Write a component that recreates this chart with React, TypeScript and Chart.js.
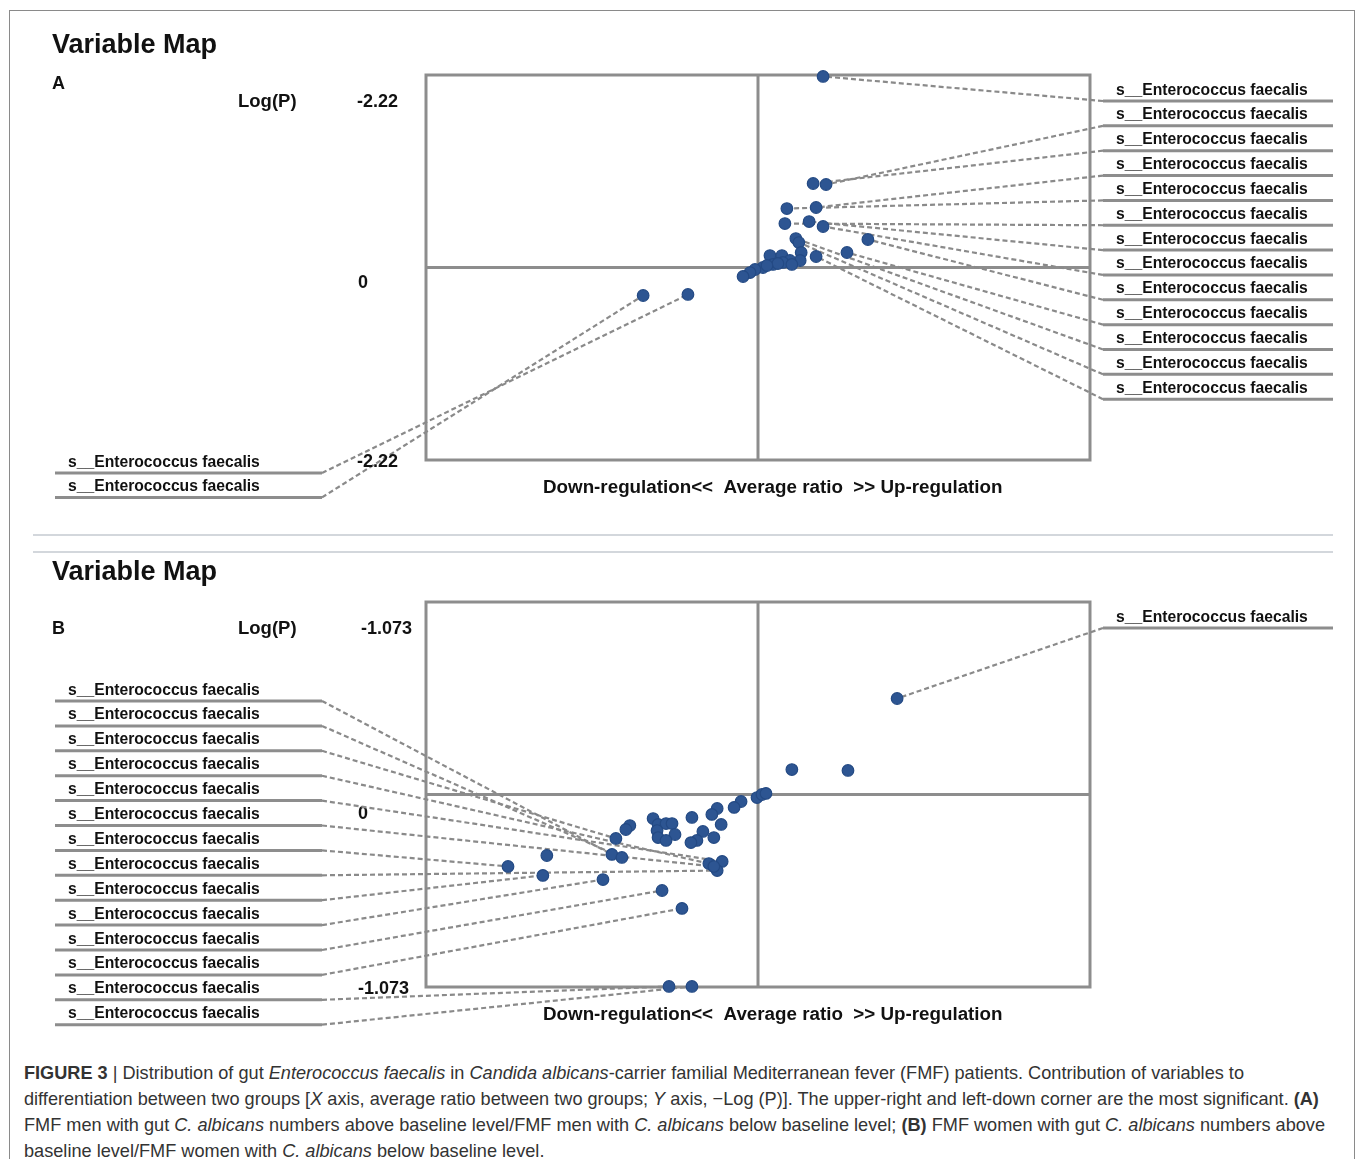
import React, { useEffect, useRef } from "react";
import { Chart, registerables } from "chart.js";
Chart.register(...registerables);

const SPECIES = "s__Enterococcus faecalis";
const AXIS_TITLE = "Down-regulation<<  Average ratio  >> Up-regulation";

// ---------- Panel A (men) ----------
const aRatio = [0.196, 0.205, 0.166, 0.175, 0.087, 0.081, 0.154, 0.196, 0.331, 0.268, 0.114, 0.123, 0.175,
  0.130, 0.036, 0.072, 0.127, 0.096, 0.075, 0.045, 0.015, -0.009, -0.024, -0.045, 0.102, 0.060, 0.027,
  -0.211, -0.346];
const aLogP = [2.203, 0.957, 0.969, 0.692, 0.680, 0.507, 0.530, 0.473, 0.323, 0.173, 0.334, 0.288, 0.127,
  0.173, 0.138, 0.138, 0.081, 0.081, 0.058, 0.035, 0.0, -0.023, -0.058, -0.104, 0.035, 0.046, 0.023,
  -0.311, -0.323];
const aRightLabelled = [0, 1, 2, 3, 4, 5, 6, 7, 8, 9, 10, 11, 12];
const aLeftLabelled = [27, 28];
const aTicks = ["-2.22", "0", "-2.22"];
const aLimit = 2.22;

// ---------- Panel B (women) ----------
const bRatio = [0.419, 0.102, 0.271, -0.003, 0.012, 0.024, -0.051, -0.072, -0.123, -0.139, -0.111, -0.199,
  -0.316, -0.386, -0.398, -0.301, -0.277, -0.259, -0.304, -0.250, -0.301, -0.277, -0.166, -0.184, -0.202,
  -0.133, -0.428, -0.440, -0.410, -0.148, -0.108, -0.123, -0.133, -0.636, -0.753, -0.648, -0.467, -0.289,
  -0.229, -0.268, -0.199];
const bLogP = [0.535, 0.139, 0.134, -0.017, 0.0, 0.006, -0.039, -0.072, -0.078, -0.111, -0.167, -0.128,
  -0.134, -0.173, -0.195, -0.167, -0.162, -0.162, -0.201, -0.223, -0.240, -0.256, -0.206, -0.256, -0.268,
  -0.240, -0.245, -0.334, -0.351, -0.385, -0.373, -0.424, -0.401, -0.340, -0.401, -0.451, -0.474, -0.535,
  -0.635, -1.07, -1.07];
const bRightLabelled = [0];
const bLeftLabelled = [27, 28, 26, 29, 30, 32, 34, 31, 35, 36, 37, 38, 39, 40];
const bTicks = ["-1.073", "0", "-1.073"];
const bLimit = 1.073;

const FONT = '"Liberation Sans", Arial, Helvetica, sans-serif';
const BOX = "#8d8d8d";
const LEAD = "#8a8a8a";
const DOT = "#2d5592";

type PanelCfg = {
  letter: string;
  letterOff: number;
  xs: number[];
  ys: number[];
  limit: number;
  ticks: string[];
  zeroOff: number;
  tickX: number;
  right: number[];
  left: number[];
  leftFromBottom: boolean;
  leftFirst: number;
  leftStep: number;
};

function makePlugin(cfg: PanelCfg) {
  return {
    id: "vmap" + cfg.letter,
    beforeDatasetsDraw(chart: any) {
      const { ctx, chartArea: ca, scales } = chart;
      const sx = scales.x;
      const sy = scales.y;
      ctx.save();
      // frame and cross lines
      ctx.strokeStyle = BOX;
      ctx.lineWidth = 3;
      ctx.setLineDash([]);
      ctx.strokeRect(ca.left, ca.top, ca.right - ca.left, ca.bottom - ca.top);
      const x0 = sx.getPixelForValue(0);
      const y0 = sy.getPixelForValue(0);
      ctx.beginPath();
      ctx.moveTo(x0, ca.top);
      ctx.lineTo(x0, ca.bottom);
      ctx.moveTo(ca.left, y0);
      ctx.lineTo(ca.right, y0);
      ctx.stroke();

      // titles
      ctx.fillStyle = "#111";
      ctx.textBaseline = "middle";
      ctx.textAlign = "left";
      ctx.font = `bold 27px ${FONT}`;
      ctx.fillText("Variable Map", 52, ca.top - 29);
      ctx.font = `bold 18px ${FONT}`;
      ctx.fillText(cfg.letter, 52, ca.top + cfg.letterOff);
      ctx.font = `bold 18.5px ${FONT}`;
      ctx.fillText("Log(P)", 238, ca.top + 27);
      ctx.font = `bold 18px ${FONT}`;
      ctx.fillText(cfg.ticks[0], cfg.tickX, ca.top + 27);
      ctx.fillText(cfg.ticks[1], 358, y0 + cfg.zeroOff);
      ctx.font = `bold 18.8px ${FONT}`;
      ctx.fillText(AXIS_TITLE, ca.left + 117, ca.bottom + 28);

      // labels with leader lines
      const labelFont = `bold 15.7px ${FONT}`;
      const drawOne = (idx: number, lineY: number, side: "r" | "l") => {
        const px = sx.getPixelForValue(cfg.xs[idx]);
        const py = sy.getPixelForValue(cfg.ys[idx]);
        const x1 = side === "r" ? ca.right + 13 : 55;
        const x2 = side === "r" ? ca.right + 243 : 322;
        const anchor = side === "r" ? x1 : x2;
        ctx.setLineDash([5, 3]);
        ctx.strokeStyle = LEAD;
        ctx.lineWidth = 2.2;
        ctx.beginPath();
        ctx.moveTo(anchor, lineY);
        ctx.lineTo(px, py);
        ctx.stroke();
        ctx.setLineDash([]);
        ctx.strokeStyle = BOX;
        ctx.lineWidth = 3;
        ctx.beginPath();
        ctx.moveTo(x1, lineY);
        ctx.lineTo(x2, lineY);
        ctx.stroke();
        ctx.fillStyle = "#111";
        ctx.font = labelFont;
        ctx.textBaseline = "alphabetic";
        ctx.fillText(SPECIES, side === "r" ? ca.right + 26 : 68, lineY - 6.5);
      };
      cfg.right.forEach((idx, i) => drawOne(idx, ca.top + 26 + i * 24.85, "r"));
      cfg.left.forEach((idx, i) => {
        const y = cfg.leftFromBottom ? ca.bottom + cfg.leftFirst + i * cfg.leftStep : ca.top + cfg.leftFirst + i * cfg.leftStep;
        drawOne(idx, y, "l");
      });

      // lower tick drawn over leader lines
      ctx.fillStyle = "#111";
      ctx.font = `bold 18px ${FONT}`;
      ctx.textBaseline = "middle";
      ctx.fillText(cfg.ticks[2], cfg.letter === "A" ? 357 : 358, ca.bottom + 2);
      ctx.restore();
    },
  };
}

function Panel({ cfg, top, height, padTop, padBottom }: { cfg: PanelCfg; top: number; height: number; padTop: number; padBottom: number }) {
  const ref = useRef<HTMLCanvasElement | null>(null);
  useEffect(() => {
    if (!ref.current) return;
    const pts = cfg.xs.map((x, i) => ({ x, y: cfg.ys[i] }));
    const chart = new Chart(ref.current, {
      type: "scatter",
      data: {
        datasets: [
          { data: pts, pointRadius: 5.8, pointBackgroundColor: DOT, pointBorderColor: "#244a84", pointBorderWidth: 1.2, clip: false } as any,
          { data: pts, pointRadius: 1.2, pointBackgroundColor: "#d2dcec", pointBorderWidth: 0, clip: false } as any,
        ],
      },
      options: {
        responsive: false,
        animation: false,
        devicePixelRatio: 1,
        layout: { padding: { left: 426, right: 1357 - 1090, top: padTop, bottom: padBottom } },
        plugins: { legend: { display: false }, tooltip: { enabled: false }, title: { display: false } },
        scales: {
          x: { type: "linear", min: -1, max: 1, display: false },
          y: { type: "linear", min: -cfg.limit, max: cfg.limit, display: false },
        },
      },
      plugins: [makePlugin(cfg)],
    });
    return () => chart.destroy();
  }, []);
  return <canvas ref={ref} width={1357} height={height} style={{ position: "absolute", left: 0, top, width: 1357, height }} />;
}

const cfgA: PanelCfg = {
  letter: "A", letterOff: 9, xs: aRatio, ys: aLogP, limit: aLimit, ticks: aTicks, zeroOff: 16, tickX: 357,
  right: aRightLabelled, left: aLeftLabelled, leftFromBottom: true, leftFirst: 13, leftStep: 24.4,
};
const cfgB: PanelCfg = {
  letter: "B", letterOff: 27, xs: bRatio, ys: bLogP, limit: bLimit, ticks: bTicks, zeroOff: 20, tickX: 361,
  right: bRightLabelled, left: bLeftLabelled, leftFromBottom: false, leftFirst: 99, leftStep: 24.9,
};

export default function App() {
  const capStyle: React.CSSProperties = {
    position: "absolute", left: 24, top: 1060, fontFamily: '"Liberation Sans", Arial, sans-serif',
    fontSize: 19, lineHeight: "26px", color: "#333", whiteSpace: "nowrap",
    transform: "scaleX(0.955)", transformOrigin: "0 0",
  };
  return (
    <div style={{ position: "absolute", left: 0, top: 0, width: 1357, height: 1159, overflow: "hidden", background: "#fff" }}>
      <div style={{ position: "absolute", left: 9, top: 10, width: 1344, height: 1200, border: "1px solid #8a8a8a" }} />
      <Panel cfg={cfgA} top={0} height={530} padTop={75} padBottom={70} />
      <div style={{ position: "absolute", left: 33, top: 534, width: 1300, height: 2, background: "#d3d7dc" }} />
      <div style={{ position: "absolute", left: 33, top: 551, width: 1300, height: 2, background: "#d3d7dc" }} />
      <Panel cfg={cfgB} top={540} height={500} padTop={62} padBottom={53} />
      <div style={capStyle}>
        <div><b>FIGURE 3</b> | Distribution of gut <i>Enterococcus faecalis</i> in <i>Candida albicans</i>-carrier familial Mediterranean fever (FMF) patients. Contribution of variables to</div>
        <div>differentiation between two groups [<i>X</i> axis, average ratio between two groups; <i>Y</i> axis, −Log (P)]. The upper-right and left-down corner are the most significant. <b>(A)</b></div>
        <div>FMF men with gut <i>C. albicans</i> numbers above baseline level/FMF men with <i>C. albicans</i> below baseline level; <b>(B)</b> FMF women with gut <i>C. albicans</i> numbers above</div>
        <div>baseline level/FMF women with <i>C. albicans</i> below baseline level.</div>
      </div>
    </div>
  );
}
